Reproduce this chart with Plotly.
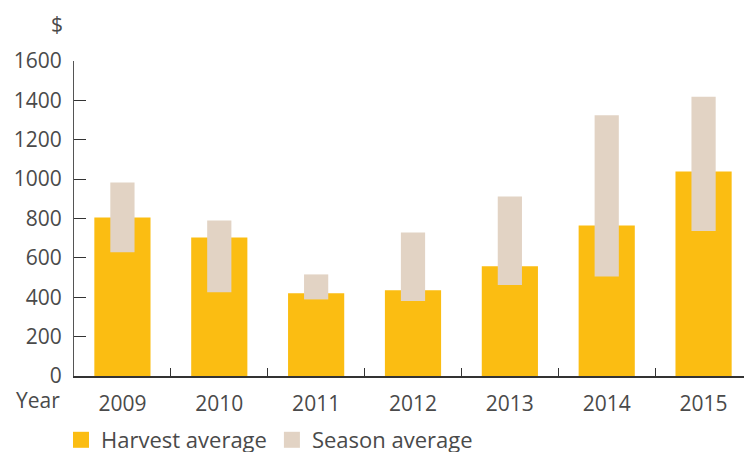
import plotly.graph_objects as go

years = ["2009", "2010", "2011", "2012", "2013", "2014", "2015"]
harvest_avg = [805, 704, 420, 435, 557, 765, 1039]
season_low = [628, 425, 389, 381, 462, 506, 736]
season_high = [983, 790, 516, 729, 912, 1325, 1418]
y_ticks = [0, 200, 400, 600, 800, 1000, 1200, 1400, 1600]

YELLOW = "#FBBD12"
BEIGE = "#E2D3C4"
TEXT = "#4a4a4a"
FONT = "Open Sans, Lato, sans-serif"
FS = 21

fig = go.Figure()
fig.add_trace(go.Bar(
    x=years, y=harvest_avg, name="Harvest average", showlegend=False,
    marker=dict(color=YELLOW, line=dict(width=0)), width=0.58,
))
fig.add_trace(go.Bar(
    x=years, y=[h - l for h, l in zip(season_high, season_low)], base=season_low,
    name="Season average", showlegend=False,
    marker=dict(color=BEIGE, line=dict(width=0)), width=0.25,
))
# legend entries with larger square swatches
for name, col in [("Harvest average", YELLOW), ("Season average", BEIGE)]:
    fig.add_trace(go.Scatter(
        x=[None], y=[None], mode="markers", name=name,
        marker=dict(symbol="square", size=16, color=col),
    ))

# page body has an 8px margin, so the figure is offset by 8px in the window
OFF = 8
W, H = 752 - OFF, 452 - OFF
L, T = 74 - OFF, 61 - OFF
B = H - (376 - OFF)
pw, ph = W - L, H - T - B

def px_x(x):  # window pixel -> paper
    return (x - OFF - L) / pw

def px_y(y):
    return (H - B - (y - OFF)) / ph

fig.update_layout(
    width=W, height=H,
    margin=dict(l=L, r=0, t=T, b=B, autoexpand=False),
    barmode="overlay",
    plot_bgcolor="white", paper_bgcolor="white",
    font=dict(family=FONT, size=FS, color=TEXT),
    showlegend=True,
    legend=dict(orientation="h", x=px_x(61), xanchor="left",
                y=px_y(440), yanchor="middle",
                font=dict(size=22, color=TEXT), itemsizing="trace",
                traceorder="normal", bgcolor="rgba(0,0,0,0)"),
    xaxis=dict(
        type="category", range=[-0.5, 6.5],
        showline=True, linecolor="#333", linewidth=1.5,
        ticks="inside", tickson="boundaries", ticklen=8, tickcolor="#333",
        showgrid=False, zeroline=False,
        tickfont=dict(size=FS, color=TEXT), ticklabelstandoff=8,
    ),
    yaxis=dict(
        range=[0, 1600], tickvals=y_ticks,
        showline=True, linecolor="#555", linewidth=1,
        ticks="inside", ticklen=12, tickcolor="#333",
        showgrid=False, zeroline=False,
        tickfont=dict(size=FS, color=TEXT), ticklabelstandoff=7,
    ),
    annotations=[
        dict(text="$", x=px_x(57), y=px_y(24), xref="paper", yref="paper",
             xanchor="center", yanchor="middle",
             showarrow=False, font=dict(size=FS, color=TEXT)),
        dict(text="Year", x=px_x(38), y=px_y(400), xref="paper", yref="paper",
             xanchor="center", yanchor="middle",
             showarrow=False, font=dict(size=FS, color=TEXT)),
    ],
)

fig.write_html("out.html")
